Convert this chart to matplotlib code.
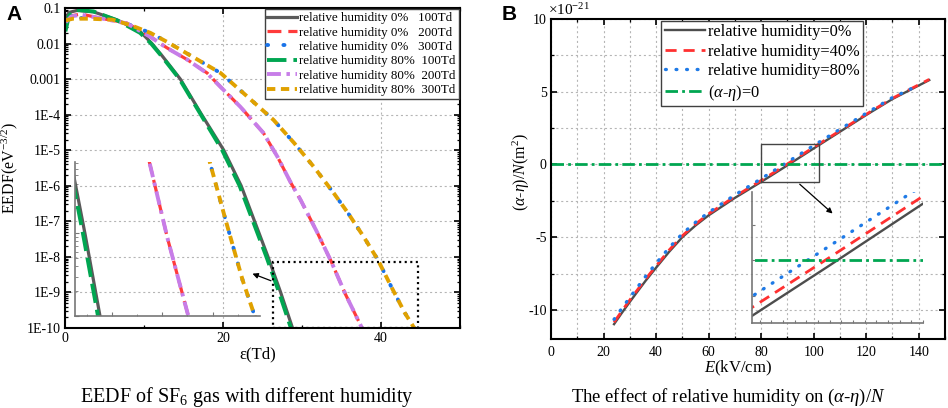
import matplotlib
matplotlib.use('Agg')
import matplotlib.pyplot as plt
from matplotlib.ticker import FixedLocator, FixedFormatter, MultipleLocator, LogLocator, NullFormatter
from matplotlib.patches import Rectangle
import numpy as np

plt.rcParams['font.family'] = ['Liberation Serif', 'DejaVu Serif']
plt.rcParams['mathtext.fontset'] = 'custom'
plt.rcParams['mathtext.rm'] = 'Liberation Serif'
plt.rcParams['mathtext.it'] = 'Liberation Serif:italic'
plt.rcParams['mathtext.bf'] = 'Liberation Serif:bold'
plt.rcParams['lines.scale_dashes'] = False
plt.rcParams['axes.unicode_minus'] = False

# ---------------- Panel A data: EEDF (eV^-3/2) vs energy ----------------
eps_0_100 = [0.1, 0.5, 1.5, 3.6, 6.6, 9.5, 11.0, 12.3, 13.4, 14.6, 17.3, 20.1, 22.3, 24.0, 25.7, 27.3, 28.8, 29.1]
eedf_0_100 = [0.05, 0.075, 0.085, 0.078, 0.046, 0.022, 0.01, 4.5e-3, 2.2e-3, 1e-3, 1e-4, 1e-5, 1e-6, 1e-7, 1e-8, 1e-9, 1e-10, 6e-11]

eps_0_200 = [0.1, 0.8, 2.0, 4.4, 7.8, 10.8, 12.9, 15.5, 18.0, 19.7, 22.2, 25.1, 26.9, 28.6, 29.8, 31.9, 33.7, 35.5, 37.5, 37.8]
eedf_0_200 = [0.045, 0.06, 0.068, 0.052, 0.038, 0.0155, 7.6e-3, 3.5e-3, 1.48e-3, 6e-4, 1.66e-4, 3.1e-5, 6.5e-6, 1.2e-6, 4.1e-7, 5e-8, 7.4e-9, 8.9e-10, 1.1e-10, 8e-11]

eps_0_300 = [0.1, 1.0, 3.0, 6.0, 8.3, 10.8, 12.9, 16.2, 19.7, 23.1, 26.4, 29.0, 31.5, 34.0, 35.8, 37.8, 39.6, 41.3, 43.0, 44.2, 44.5]
eedf_0_300 = [0.04, 0.052, 0.052, 0.048, 0.033, 0.02, 0.0112, 4.2e-3, 1.48e-3, 3.2e-4, 7.1e-5, 1.6e-5, 3.4e-6, 6.3e-7, 1.74e-7, 3.7e-8, 8.3e-9, 1.45e-9, 2.7e-10, 1e-10, 7e-11]

eps_80_100 = [0.05, 0.5, 1.3, 3.6, 6.6, 9.5, 10.9, 12.2, 13.3, 14.5, 17.2, 19.9, 22.1, 23.8, 25.5, 27.1, 28.6, 28.9]
eedf_80_100 = [0.022, 0.06, 0.09, 0.08, 0.045, 0.02, 0.01, 4.5e-3, 2.2e-3, 1e-3, 1e-4, 1e-5, 1e-6, 1e-7, 1e-8, 1e-9, 1e-10, 6e-11]

eps_80_200 = [0.1, 0.8, 2.0, 4.4, 7.8, 10.8, 12.9, 15.5, 18.0, 19.7, 22.2, 25.1, 26.9, 28.6, 29.8, 31.9, 33.7, 35.5, 37.5, 37.8]
eedf_80_200 = [0.04, 0.058, 0.065, 0.052, 0.037, 0.0155, 7.5e-3, 3.5e-3, 1.45e-3, 6e-4, 1.66e-4, 3.1e-5, 6.5e-6, 1.2e-6, 4.1e-7, 5e-8, 7.4e-9, 8.9e-10, 1.1e-10, 8e-11]

eps_80_300 = [0.1, 1.0, 3.0, 6.0, 8.3, 10.8, 12.9, 16.2, 19.7, 23.1, 26.4, 29.0, 31.5, 34.0, 35.8, 37.8, 39.6, 41.3, 43.0, 44.2, 44.5]
eedf_80_300 = [0.045, 0.05, 0.05, 0.047, 0.033, 0.02, 0.0112, 4.2e-3, 1.48e-3, 3.2e-4, 7.1e-5, 1.6e-5, 3.4e-6, 6.3e-7, 1.74e-7, 3.7e-8, 8.3e-9, 1.45e-9, 2.7e-10, 1e-10, 7e-11]

labels_A = ['relative humidity 0%   100Td', 'relative humidity 0%   200Td',
            'relative humidity 0%   300Td', 'relative humidity 80%  100Td',
            'relative humidity 80%  200Td', 'relative humidity 80%  300Td']
ytick_labels_A = ['1E-10', '1E-9', '1E-8', '1E-7', '1E-6', '1E-5', '1E-4', '0.001', '0.01', '0.1']
xticks_A = [0, 20, 40]

# ---------------- Panel B data: (alpha-eta)/N (1e-21 m^2) vs E ----------------
E_rh0 = [24, 27, 30, 33, 36, 40, 45, 50, 55, 60, 65, 70, 80, 90, 100, 110, 120, 130, 144]
ae_rh0 = [-10.98, -10.2, -9.45, -8.72, -8.0, -7.1, -6.0, -5.0, -4.2, -3.5, -2.9, -2.3, -1.2, -0.06, 1.1, 2.25, 3.4, 4.5, 5.8]

E_rh40 = [24, 27, 30, 33, 36, 40, 45, 50, 55, 60, 65, 70, 80, 90, 100, 110, 120, 130, 144]
ae_rh40 = [-10.85, -10.07, -9.32, -8.6, -7.88, -6.98, -5.88, -4.9, -4.1, -3.4, -2.8, -2.2, -1.1, 0.03, 1.18, 2.32, 3.45, 4.55, 5.85]

E_rh80 = [24, 27, 30, 33, 36, 40, 45, 50, 55, 60, 65, 70, 80, 90, 100, 110, 120, 130, 140]
ae_rh80 = [-10.65, -9.88, -9.15, -8.42, -7.7, -6.8, -5.72, -4.76, -3.98, -3.3, -2.7, -2.1, -0.98, 0.16, 1.3, 2.42, 3.52, 4.6, 5.45]

E_zero = [0, 150]
ae_zero = [0, 0]

labels_B = ['relative humidity=0%', 'relative humidity=40%', 'relative humidity=80%',
            r'($\alpha$-$\eta$)=0']

# ---------------- figure ----------------
W, H = 948, 408
fig = plt.figure(figsize=(W / 100, H / 100), dpi=100)

def px_axes(l, t, r, b):
    return [l / W, 1 - b / H, (r - l) / W, (b - t) / H]

styles_A = [
    dict(color='#5a5a5a', lw=2.3, ls='-'),
    dict(color='#ff3b3b', lw=2.3, dashes=(10, 5)),
    dict(color='#1a73e8', lw=2.8, dashes=(0.8, 11), dash_capstyle='round'),
    dict(color='#00a651', lw=2.8, dashes=(14, 5)),
    dict(color='#c77de8', lw=2.8, dashes=(10, 4, 2.5, 4)),
    dict(color='#e0a100', lw=2.8, dashes=(6, 4)),
]
series_A = [(eps_0_100, eedf_0_100), (eps_0_200, eedf_0_200), (eps_0_300, eedf_0_300),
            (eps_80_100, eedf_80_100), (eps_80_200, eedf_80_200), (eps_80_300, eedf_80_300)]

axA = fig.add_axes(px_axes(65, 8, 460, 328))
axA.set_yscale('log')
handles_A = []
for (x, y), st, lab in zip(series_A, styles_A, labels_A):
    h, = axA.plot(x, y, label=lab, **st)
    handles_A.append(h)
axA.set_xlim(0, 50)
axA.set_ylim(1e-10, 0.1)
axA.yaxis.set_major_locator(FixedLocator([10.0 ** k for k in range(-10, 0)]))
axA.yaxis.set_major_formatter(FixedFormatter(ytick_labels_A))
axA.yaxis.set_minor_locator(LogLocator(base=10, subs=np.arange(2, 10), numticks=100))
axA.yaxis.set_minor_formatter(NullFormatter())
axA.xaxis.set_major_locator(FixedLocator(xticks_A))
axA.xaxis.set_minor_locator(MultipleLocator(10))
axA.grid(True, which='major', color='#b5b5b5', lw=0.8, ls=(0, (1.5, 2)))
axA.tick_params(which='both', direction='in', top=True, right=True, labelsize=10, pad=3)
axA.tick_params(which='major', length=4.5, width=1.2)
axA.tick_params(which='minor', length=2.5, width=0.9)
for s in axA.spines.values():
    s.set_linewidth(1.5)
axA.set_xlabel('ε(Td)', fontsize=12)
axA.xaxis.set_label_coords(0.489, -0.058)
axA.set_ylabel(r'EEDF(eV$^{\mathrm{-3/2}}$)', fontsize=11.5)
axA.yaxis.set_label_coords(-0.114, 0.5)

legA = axA.legend(handles=handles_A, loc='upper right', bbox_to_anchor=(1.0, 1.0),
                  borderaxespad=0.1, fontsize=9.4, handlelength=2.25, handletextpad=0.2,
                  labelspacing=0.17, borderpad=0.22, fancybox=False, framealpha=1,
                  edgecolor='#404040')
legA.get_frame().set_linewidth(1.0)

# zoom box and arrow
axA.add_patch(Rectangle((26.3, 1e-10), 44.7 - 26.3, 7.2e-9 - 1e-10, fill=False,
                        ec='black', lw=1.6, ls=(0, (1.5, 2.5)), zorder=5))
axA.annotate('', xy=(23.4, 3.6e-9), xytext=(26.4, 2e-9),
             arrowprops=dict(arrowstyle='-|>', color='black', lw=0.9, mutation_scale=8))

insA = axA.inset_axes([0.025, 0.0375, 0.468, 0.48])
insA.set_facecolor('none')
insA.set_yscale('log')
for (x, y), st in zip(series_A, styles_A):
    insA.plot(x, y, **st)
insA.set_xlim(26.3, 44.7)
insA.set_ylim(1e-10, 7.2e-9)
for k in ['top', 'right']:
    insA.spines[k].set_visible(False)
for k in ['left', 'bottom']:
    insA.spines[k].set_color('#777777')
    insA.spines[k].set_linewidth(1.2)
insA.xaxis.set_major_locator(MultipleLocator(5))
insA.xaxis.set_minor_locator(MultipleLocator(2.5))
insA.tick_params(which='both', direction='in', labelbottom=False, labelleft=False,
                 color='#777777')
insA.tick_params(which='major', length=3)
insA.tick_params(which='minor', length=1.8)

# ---------------- Panel B ----------------
styles_B = [
    dict(color='#4d4d4d', lw=1.7, ls='-'),
    dict(color='#ff3030', lw=2.0, dashes=(8, 5)),
    dict(color='#1f7ae6', lw=2.4, dashes=(0.6, 7), dash_capstyle='round'),
    dict(color='#00a651', lw=2.0, dashes=(9, 3, 2, 3)),
]
series_B = [(E_rh0, ae_rh0), (E_rh40, ae_rh40), (E_rh80, ae_rh80), (E_zero, ae_zero)]

axB = fig.add_axes(px_axes(551, 19, 945, 339))
handles_B = []
for (x, y), st, lab in zip(series_B, styles_B, labels_B):
    h, = axB.plot(x, y, label=lab, **st)
    handles_B.append(h)
axB.set_xlim(0, 150)
axB.set_ylim(-12, 10)
axB.xaxis.set_major_locator(MultipleLocator(20))
axB.xaxis.set_minor_locator(MultipleLocator(10))
axB.yaxis.set_major_locator(MultipleLocator(5))
axB.yaxis.set_minor_locator(MultipleLocator(2.5))
axB.grid(True, which='both', color='#b5b5b5', lw=0.8, ls=(0, (1.5, 2)))
axB.tick_params(which='both', direction='in', top=True, right=True, labelsize=10)
axB.tick_params(axis='x', pad=5)
axB.tick_params(axis='y', pad=3)
axB.tick_params(which='major', length=4.5, width=1.2)
axB.tick_params(which='minor', length=2.5, width=0.9)
for s in axB.spines.values():
    s.set_linewidth(1.5)
axB.set_xlabel(r'$E$(kV/cm)', fontsize=12)
axB.xaxis.set_label_coords(0.475, -0.062)
axB.set_ylabel(r'($\alpha$-$\eta$)/$N$(m$^{\mathrm{2}}$)', fontsize=11.5)
axB.yaxis.set_label_coords(-0.048, 0.522)

legB = axB.legend(handles=handles_B, loc='upper center', bbox_to_anchor=(0.536, 1.0),
                  borderaxespad=0.1, fontsize=11.8, handlelength=2.45, handletextpad=0.2,
                  labelspacing=0.22, borderpad=0.2, fancybox=False, framealpha=1,
                  edgecolor='#404040')
legB.get_frame().set_linewidth(1.0)

axB.add_patch(Rectangle((80, -1.2), 22, 2.6, fill=False, ec='#444444', lw=1.0, zorder=5))
axB.annotate('', xy=(108, -3.5), xytext=(93.9, -1.23),
             arrowprops=dict(arrowstyle='-|>', color='black', lw=0.9, mutation_scale=8))

insB = axB.inset_axes([0.51, 0.05, 0.434, 0.41])
insB.set_facecolor('none')
for (x, y), st in zip(series_B, styles_B):
    insB.plot(x, y, **st)
insB.set_xlim(85, 96)
insB.set_ylim(-0.71, 0.77)
for k in ['top', 'right']:
    insB.spines[k].set_visible(False)
for k in ['left', 'bottom']:
    insB.spines[k].set_color('#777777')
    insB.spines[k].set_linewidth(1.2)
insB.xaxis.set_major_locator(MultipleLocator(0.75))
insB.yaxis.set_major_locator(MultipleLocator(0.4))
insB.tick_params(which='both', direction='in', labelbottom=False, labelleft=False,
                 color='#777777', length=2.5)

fig.text(548 / W, 1 - 15 / H, r'$\times$10$^{\mathrm{-21}}$', fontsize=11, ha='left', va='baseline')

# panel letters and captions
fig.text(14 / W, 1 - 14 / H, 'A', fontsize=15, fontweight='bold', family='Liberation Sans',
         ha='center', va='center')
fig.text(509 / W, 1 - 14 / H, 'B', fontsize=15, fontweight='bold', family='Liberation Sans',
         ha='center', va='center')
fig.text(247 / W, 1 - 397 / H, r'EEDF of SF$_{\mathrm{6}}$ gas with different humidity',
         fontsize=14.5, ha='center', va='center')
fig.text(728 / W, 1 - 397 / H, r'The effect of relative humidity on ($\alpha$-$\eta$)/$N$',
         fontsize=13.4, ha='center', va='center')

fig.savefig('out.png', dpi=100)
